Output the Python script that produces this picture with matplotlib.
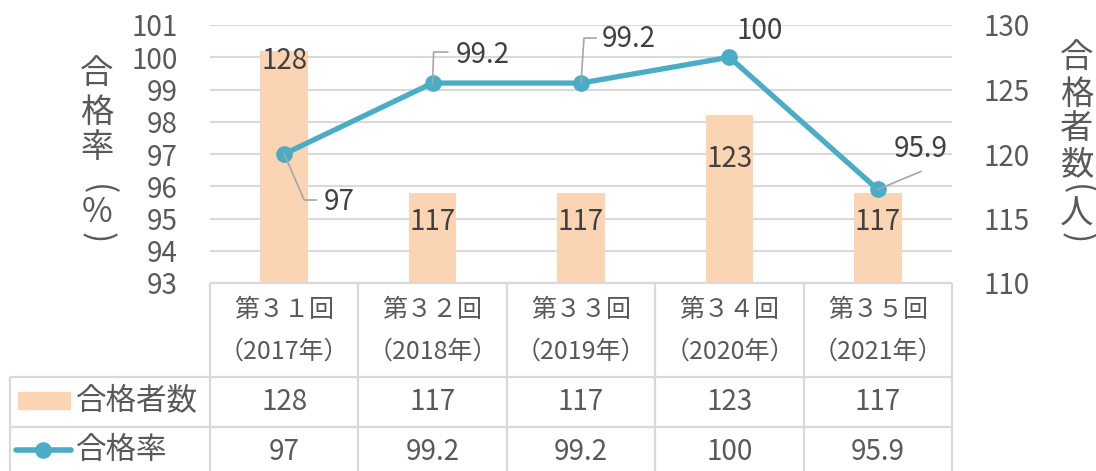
import matplotlib
matplotlib.use("Agg")
import matplotlib.pyplot as plt
from matplotlib.lines import Line2D
from matplotlib.patches import Rectangle

plt.rcParams['font.family'] = ['Noto Sans CJK JP', 'DejaVu Sans']

# data
sessions = ['第３１回', '第３２回', '第３３回', '第３４回', '第３５回']
years = ['（2017年）', '（2018年）', '（2019年）', '（2020年）', '（2021年）']
passers = [128, 117, 117, 123, 117]
pass_rate = [97, 99.2, 99.2, 100, 95.9]
passers_txt = ['128', '117', '117', '123', '117']
rate_txt = ['97', '99.2', '99.2', '100', '95.9']
rate_ticks = [93, 94, 95, 96, 97, 98, 99, 100, 101]
count_ticks = [110, 115, 120, 125, 130]

BAR = '#FBD4B4'
LINE = '#4BACC6'
TXT = '#595959'
DARK = '#404040'
GRID = '#D9D9D9'
LEAD = '#A6A6A6'
FS = 20

W, H = 1096, 471
fig = plt.figure(figsize=(W / 100, H / 100), dpi=100)

# plot area in pixels: x 210..952, y 25..283
pos = [210 / W, 1 - 283 / H, (952 - 210) / W, (283 - 25) / H]
ax = fig.add_axes(pos)
ax2 = ax.twinx()
ax3 = fig.add_axes(pos, sharex=ax, sharey=ax)
ax3.axis('off')

x = list(range(len(sessions)))
ax.set_xlim(-0.5, len(sessions) - 0.5)
ax.set_ylim(93, 101)
ax2.set_ylim(110, 130)

ax.set_yticks(rate_ticks)
ax2.set_yticks(count_ticks)
ax.set_xticks([])
ax.grid(axis='y', color=GRID, lw=1.5)
for a in (ax, ax2):
    for s in a.spines.values():
        s.set_visible(False)
    a.tick_params(length=0, labelsize=FS, colors=TXT)
ax.tick_params(axis='y', pad=23)
ax2.tick_params(axis='y', pad=23)


# vertical axis titles: kanji stacked, brackets turned sideways
def vtitle(xc, ychars, words, yb, unit):
    kw = dict(transform=fig.transFigure, ha='center', va='center',
              fontsize=24, color=TXT)
    for ch, yc in zip(words, ychars):
        fig.text(xc / W, 1 - yc / H, ch, **kw)
    fig.text(xc / W, 1 - yb[0] / H, '(', rotation=270, rotation_mode='anchor', **kw)
    fig.text(xc / W, 1 - yb[1] / H, unit, **kw)
    fig.text(xc / W, 1 - yb[2] / H, ')', rotation=270, rotation_mode='anchor', **kw)


vtitle(97, [74, 112, 148], '合格率', [190, 213, 238], '%')
vtitle(1077, [58, 94, 129, 165], '合格者数', [190, 214, 238], '人')

# bars on right axis
ax2.bar(x, passers, width=0.32, bottom=0, color=BAR, zorder=2)
ax2.set_ylim(110, 130)
bar_lbl_off = [-10, -29, -29, -44, -29]
for xi, v, t, off in zip(x, passers, passers_txt, bar_lbl_off):
    ax2.annotate(t, (xi, v), xytext=(0, off), textcoords='offset pixels',
                 ha='center', va='center', fontsize=FS, color=DARK)

# line on top
ax3.plot(x, pass_rate, color=LINE, lw=3.8, marker='o', ms=11,
         solid_capstyle='round', zorder=5)

# rate labels: label offset (px) and leader path offsets (px)
lbl_off = [(55, -48), (50, 28), (48, 44), (30, 26), (43, 40)]
leaders = [
    [(0, 0), (20, -46), (32, -46)],
    [(0, 0), (1, 31), (15, 31)],
    [(0, 0), (3, 45), (15, 45)],
    None,
    [(0, 0), (43, 18)],
]
fig.canvas.draw()
for xi, v, t, off, path in zip(x, pass_rate, rate_txt, lbl_off, leaders):
    px, py = ax3.transData.transform((xi, v))
    if path:
        fig.add_artist(Line2D([px + dx for dx, dy in path],
                              [py + dy for dx, dy in path],
                              transform=None, color=LEAD, lw=1.2, zorder=1))
    ax3.annotate(t, (xi, v), xytext=off, textcoords='offset pixels',
                 ha='center', va='center', fontsize=FS, color=DARK)

# data table
tab = fig.add_axes([0, 0, 1, 1])
tab.set_xlim(0, W)
tab.set_ylim(H, 0)
tab.axis('off')
cols = [210 + i * (952 - 210) / 5 for i in range(6)]
rows = [283, 377, 427, 480]


def hline(y, x0, x1):
    tab.plot([x0, x1], [y, y], color=GRID, lw=1.6, solid_capstyle='butt')


def vline(xv, y0, y1):
    tab.plot([xv, xv], [y0, y1], color=GRID, lw=1.6, solid_capstyle='butt')


hline(rows[0], cols[0], cols[-1])
hline(rows[1], 10, cols[-1])
hline(rows[2], 10, cols[-1])
for c in cols:
    vline(c, rows[0], rows[3])
vline(10, rows[1], rows[3])

for i in range(len(sessions)):
    cx = (cols[i] + cols[i + 1]) / 2
    tab.text(cx, 310, sessions[i], ha='center', va='center', fontsize=18, color=TXT)
    tab.text(cx, 352, years[i], ha='center', va='center', fontsize=18, color=TXT)
    tab.text(cx, 402, passers_txt[i], ha='center', va='center', fontsize=FS, color=TXT)
    tab.text(cx, 452, rate_txt[i], ha='center', va='center', fontsize=FS, color=TXT)

tab.add_patch(Rectangle((18, 392), 52, 17, color=BAR))
tab.text(76, 402, '合格者数', ha='left', va='center', fontsize=22, color=TXT)
tab.plot([16, 71], [450, 450], color=LINE, lw=4, solid_capstyle='round')
tab.plot([43], [450], 'o', color=LINE, ms=11)
tab.text(76, 450, '合格率', ha='left', va='center', fontsize=22, color=TXT)

fig.savefig('out.png', dpi=100)
